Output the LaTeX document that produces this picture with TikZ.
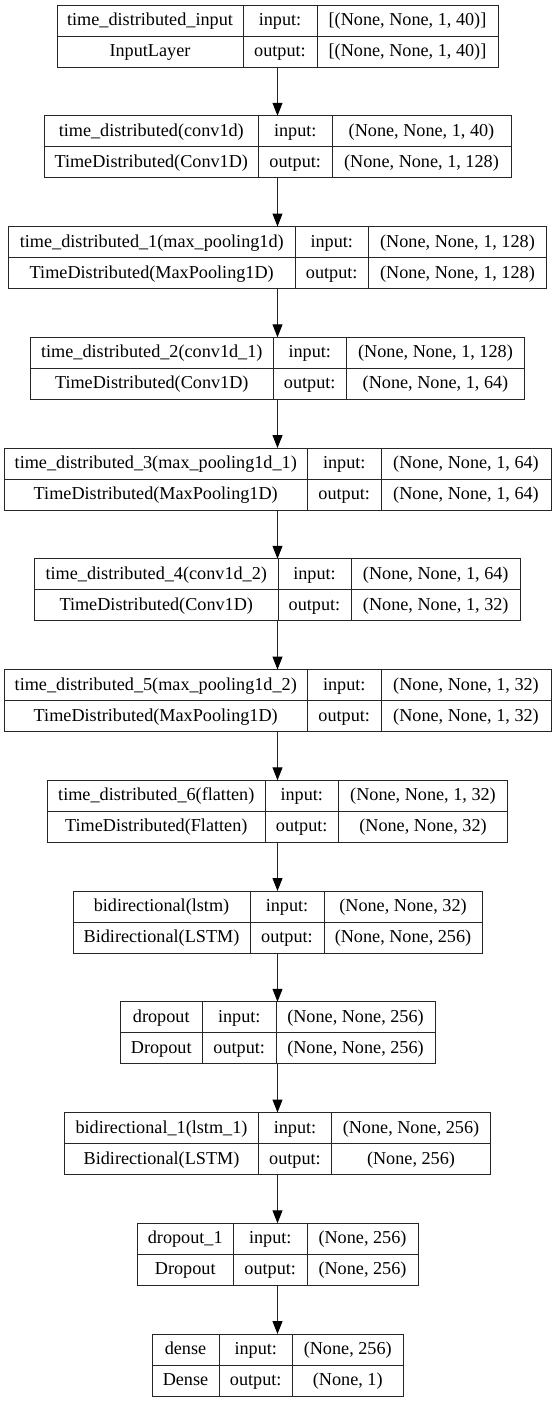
\documentclass[tikz,border=0pt]{standalone}
\usepackage{fontspec}
\setmainfont{Liberation Serif}
\usepackage{tikz}
\usetikzlibrary{positioning,calc,arrows.meta}
\tikzset{lbox/.style={draw=black!85, line width=1pt, inner sep=0pt, outer sep=0pt}}
\tikzset{lsep/.style={draw=black!85, line width=1pt}}
\tikzset{ltxt/.style={anchor=base, inner sep=0pt, font=\fontsize{18.2}{20}\selectfont}}
\tikzset{arr/.style={draw=black!85, line width=1pt, -{Triangle[length=13pt,width=10pt,color=black]}}}

\begin{document}
\begin{tikzpicture}[x=1pt, y=-1pt]
    \useasboundingbox (0,0) rectangle (556,1401);
    % one table per layer: name / left edge / two dividers / texts
    \foreach \n/\xl/\xa/\xb/\nm/\cl/\vin/\vout [count=\i] in {
        inp/57/243/317/{time\_distributed\_input}/{InputLayer}/{[(None, None, 1, 40)]}/{[(None, None, 1, 40)]},
        td0/44/258.5/332/{time\_distributed(conv1d)}/{TimeDistributed(Conv1D)}/{(None, None, 1, 40)}/{(None, None, 1, 128)},
        td1/8.5/295/368.5/{time\_distributed\_1(max\_pooling1d)}/{TimeDistributed(MaxPooling1D)}/{(None, None, 1, 128)}/{(None, None, 1, 128)},
        td2/30.5/273/346.5/{time\_distributed\_2(conv1d\_1)}/{TimeDistributed(Conv1D)}/{(None, None, 1, 128)}/{(None, None, 1, 64)},
        td3/4/307.5/381/{time\_distributed\_3(max\_pooling1d\_1)}/{TimeDistributed(MaxPooling1D)}/{(None, None, 1, 64)}/{(None, None, 1, 64)},
        td4/34.5/278/351/{time\_distributed\_4(conv1d\_2)}/{TimeDistributed(Conv1D)}/{(None, None, 1, 64)}/{(None, None, 1, 32)},
        td5/4/307.5/381/{time\_distributed\_5(max\_pooling1d\_2)}/{TimeDistributed(MaxPooling1D)}/{(None, None, 1, 32)}/{(None, None, 1, 32)},
        td6/47.5/265/338.5/{time\_distributed\_6(flatten)}/{TimeDistributed(Flatten)}/{(None, None, 1, 32)}/{(None, None, 32)},
        bid/73/250/324/{bidirectional(lstm)}/{Bidirectional(LSTM)}/{(None, None, 32)}/{(None, None, 256)},
        drop/120/202.5/276/{dropout}/{Dropout}/{(None, None, 256)}/{(None, None, 256)},
        bid1/64.5/258.5/331.5/{bidirectional\_1(lstm\_1)}/{Bidirectional(LSTM)}/{(None, None, 256)}/{(None, 256)},
        drop1/137/233.5/307/{dropout\_1}/{Dropout}/{(None, 256)}/{(None, 256)},
        dense/152/219/292.5/{dense}/{Dense}/{(None, 256)}/{(None, 1)}} {
        \pgfmathsetmacro\ty{5+(\i-1)*110.75}
        \pgfmathsetmacro\xr{555-\xl}
        \node[lbox, minimum width={(\xr-\xl)*1pt}, minimum height=62pt] (\n) at (277.5,{\ty+31}) {};
        \draw[lsep] (\n.west) -- (\n.east);
        \draw[lsep] (\n.north -| \xa,0) -- (\n.south -| \xa,0);
        \draw[lsep] (\n.north -| \xb,0) -- (\n.south -| \xb,0);
        \node[ltxt] (\n-nm) at ({(\xl+\xa)/2},{\ty+20.5}) {\nm};
        \node[ltxt] (\n-cl) at ({(\xl+\xa)/2},{\ty+51.5}) {\cl};
        \node[ltxt] (\n-i) at ({(\xa+\xb)/2},{\ty+20.5}) {input:};
        \node[ltxt] (\n-o) at ({(\xa+\xb)/2},{\ty+51.5}) {output:};
        \node[ltxt] (\n-vi) at ({(\xb+\xr)/2},{\ty+20.5}) {\vin};
        \node[ltxt] (\n-vo) at ({(\xb+\xr)/2},{\ty+51.5}) {\vout};
    }
    \foreach \p/\q in {inp/td0, td0/td1, td1/td2, td2/td3, td3/td4, td4/td5,
        td5/td6, td6/bid, bid/drop, drop/bid1, bid1/drop1, drop1/dense}
        \draw[arr] (\p) -- (\q);
\end{tikzpicture}
\end{document}
